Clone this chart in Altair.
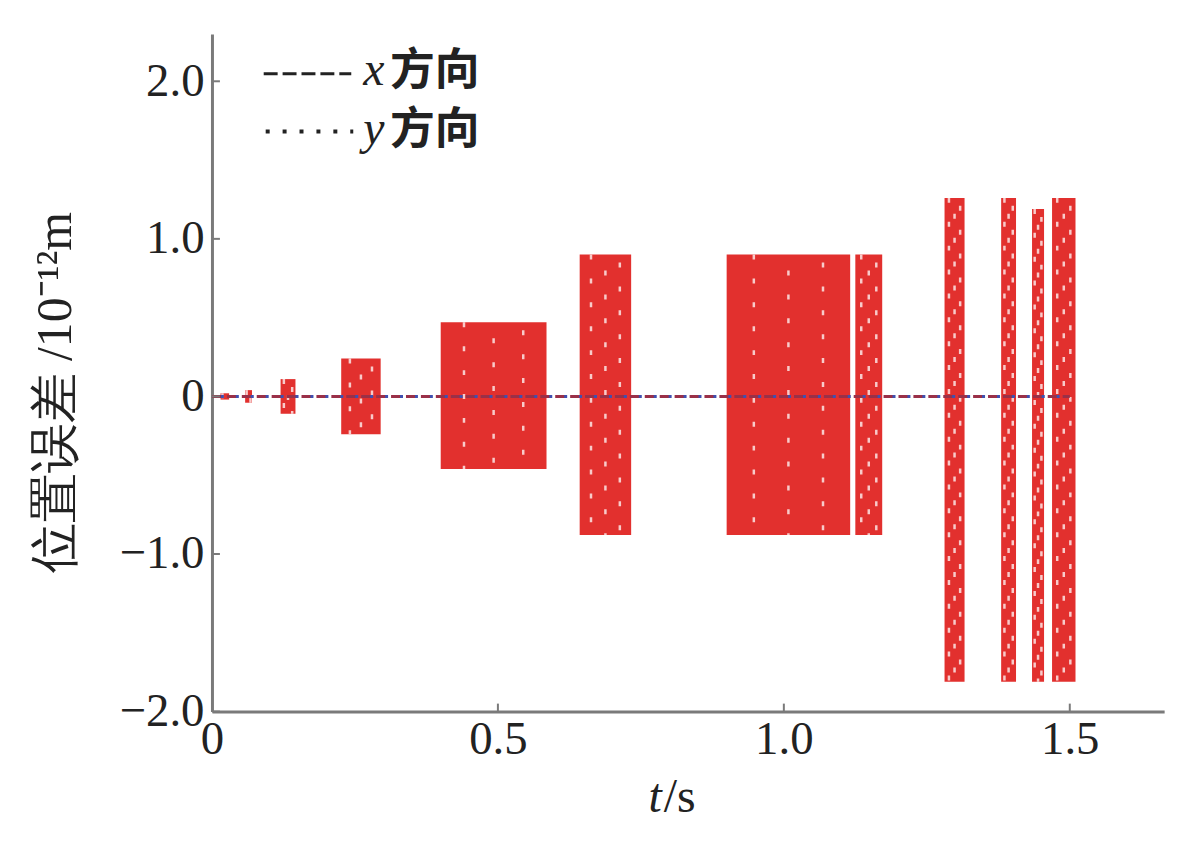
import altair as alt
import pandas as pd

# ---- data ----
block_t0 = [0.015, 0.058, 0.120, 0.226, 0.400, 0.643, 0.900, 1.125, 1.281, 1.380, 1.434, 1.469]
block_t1 = [0.030, 0.070, 0.146, 0.295, 0.585, 0.733, 1.116, 1.172, 1.316, 1.406, 1.455, 1.510]
block_top = [0.02, 0.04, 0.11, 0.24, 0.47, 0.90, 0.90, 0.90, 1.26, 1.26, 1.19, 1.26]
block_bottom = [-0.02, -0.04, -0.11, -0.24, -0.46, -0.88, -0.88, -0.88, -1.81, -1.81, -1.81, -1.81]

line_t = [0.0, 1.50]
line_err = [0.0, 0.0]

x_ticks = [0.0, 0.5, 1.0, 1.5]
y_ticks = [-2.0, -1.0, 0.0, 1.0, 2.0]

W, H = 957, 681
SERIF = "Liberation Serif"
CJK = "Noto Sans CJK SC"
RED = "#e2302e"
INK = "#222222"

blocks = pd.DataFrame({"t0": block_t0, "t1": block_t1, "top": block_top, "bot": block_bottom})
lines = pd.DataFrame({"t": line_t, "e": line_err})
xt = pd.DataFrame({"v": x_ticks})
yt = pd.DataFrame({"v": y_ticks})
one = pd.DataFrame({"a": [0]})

xs = alt.Scale(domain=[0, 1.665], nice=False, zero=False)
ys = alt.Scale(domain=[-2.0, 2.3], nice=False, zero=False)
lab = "datum.value == 0 ? '0' : format(datum.value, '.1f')"

rects = alt.Chart(blocks).mark_rect(color=RED).encode(
    x=alt.X("t0:Q", scale=xs, axis=alt.Axis(values=x_ticks, labelExpr=lab, tickSize=0, grid=False,
                                            title=None, labelFont=SERIF, labelFontSize=47,
                                            labelColor=INK, labelPadding=5, domainColor="#7a7a7a",
                                            domainWidth=3, labelFlush=False)),
    x2="t1:Q",
    y=alt.Y("top:Q", scale=ys, axis=alt.Axis(values=y_ticks, labelExpr=lab, tickSize=0, grid=False,
                                             title="位置误差 /10⁻¹²m", titleFont=SERIF, titleFontSize=50,
                                             titleFontWeight="normal", titleColor=INK,
                                             titleX=-132, titleY=360, titleAngle=270,
                                             labelFont=SERIF, labelFontSize=47, labelColor=INK,
                                             labelPadding=8, domainColor="#7a7a7a", domainWidth=3,
                                             labelFlush=False)),
    y2="bot:Q",
)


# texture: white dashed streaks inside the blocks
def texture(frac, offset):
    return alt.Chart(blocks).transform_calculate(
        m=f"datum.t0 + {frac} * (datum.t1 - datum.t0)"
    ).mark_rule(color="white", strokeWidth=2.5, strokeDash=[5, 19], strokeDashOffset=offset, opacity=0.75).encode(
        x=alt.X("m:Q", scale=xs), y=alt.Y("top:Q", scale=ys), y2="bot:Q")


tex = [texture(0.22, 0), texture(0.5, 8), texture(0.78, 16)]

xline = alt.Chart(lines).mark_line(color="#9a3048", strokeWidth=3, strokeDash=[10, 5]).encode(
    x=alt.X("t:Q", scale=xs), y=alt.Y("e:Q", scale=ys))
yline = alt.Chart(lines).mark_line(color="#3f4fb0", strokeWidth=3, strokeDash=[3, 12], strokeDashOffset=6).encode(
    x=alt.X("t:Q", scale=xs), y=alt.Y("e:Q", scale=ys))

xtick = alt.Chart(xt).mark_rule(color="#7a7a7a", strokeWidth=2).encode(
    x=alt.X("v:Q", scale=xs), y=alt.value(H), y2=alt.value(H - 8))
ytick = alt.Chart(yt).mark_rule(color="#7a7a7a", strokeWidth=2).encode(
    y=alt.Y("v:Q", scale=ys), x=alt.value(0), x2=alt.value(8))

# x-axis title  t / s
t_it = alt.Chart(one).mark_text(font=SERIF, fontSize=48, fontStyle="italic", color=INK,
                                align="right", baseline="middle").encode(x=alt.value(452), y=alt.value(768), text=alt.value("t"))
t_s = alt.Chart(one).mark_text(font=SERIF, fontSize=48, color=INK,
                               align="left", baseline="middle").encode(x=alt.value(454), y=alt.value(768), text=alt.value("/s"))

# legend
leg_x = alt.Chart(one).mark_rule(color=INK, strokeWidth=3, strokeDash=[14, 5]).encode(
    x=alt.value(52), x2=alt.value(140), y=alt.value(40))
leg_y = alt.Chart(one).mark_rule(color=INK, strokeWidth=4, strokeDash=[4, 13]).encode(
    x=alt.value(54), x2=alt.value(142), y=alt.value(98))
lx1 = alt.Chart(one).mark_text(font=SERIF, fontSize=48, fontStyle="italic", color=INK,
                               align="left", baseline="middle").encode(x=alt.value(152), y=alt.value(37), text=alt.value("x"))
lx2 = alt.Chart(one).mark_text(font=CJK, fontSize=45, fontWeight="bold", color=INK,
                               align="left", baseline="middle").encode(x=alt.value(179), y=alt.value(37), text=alt.value("方向"))
ly1 = alt.Chart(one).mark_text(font=SERIF, fontSize=48, fontStyle="italic", color=INK,
                               align="left", baseline="middle").encode(x=alt.value(152), y=alt.value(97), text=alt.value("y"))
ly2 = alt.Chart(one).mark_text(font=CJK, fontSize=45, fontWeight="bold", color=INK,
                               align="left", baseline="middle").encode(x=alt.value(179), y=alt.value(97), text=alt.value("方向"))

chart = alt.layer(rects, *tex, xline, yline, xtick, ytick, t_it, t_s, leg_x, leg_y, lx1, lx2, ly1, ly2).properties(
    width=W, height=H,
    padding={"left": 205, "top": 24, "right": 28, "bottom": 140},
    autosize=alt.AutoSizeParams(type="none"),
).configure(background="white").configure_view(strokeWidth=0)

chart.save("out.html", embed_options={"renderer": "svg", "actions": False})
